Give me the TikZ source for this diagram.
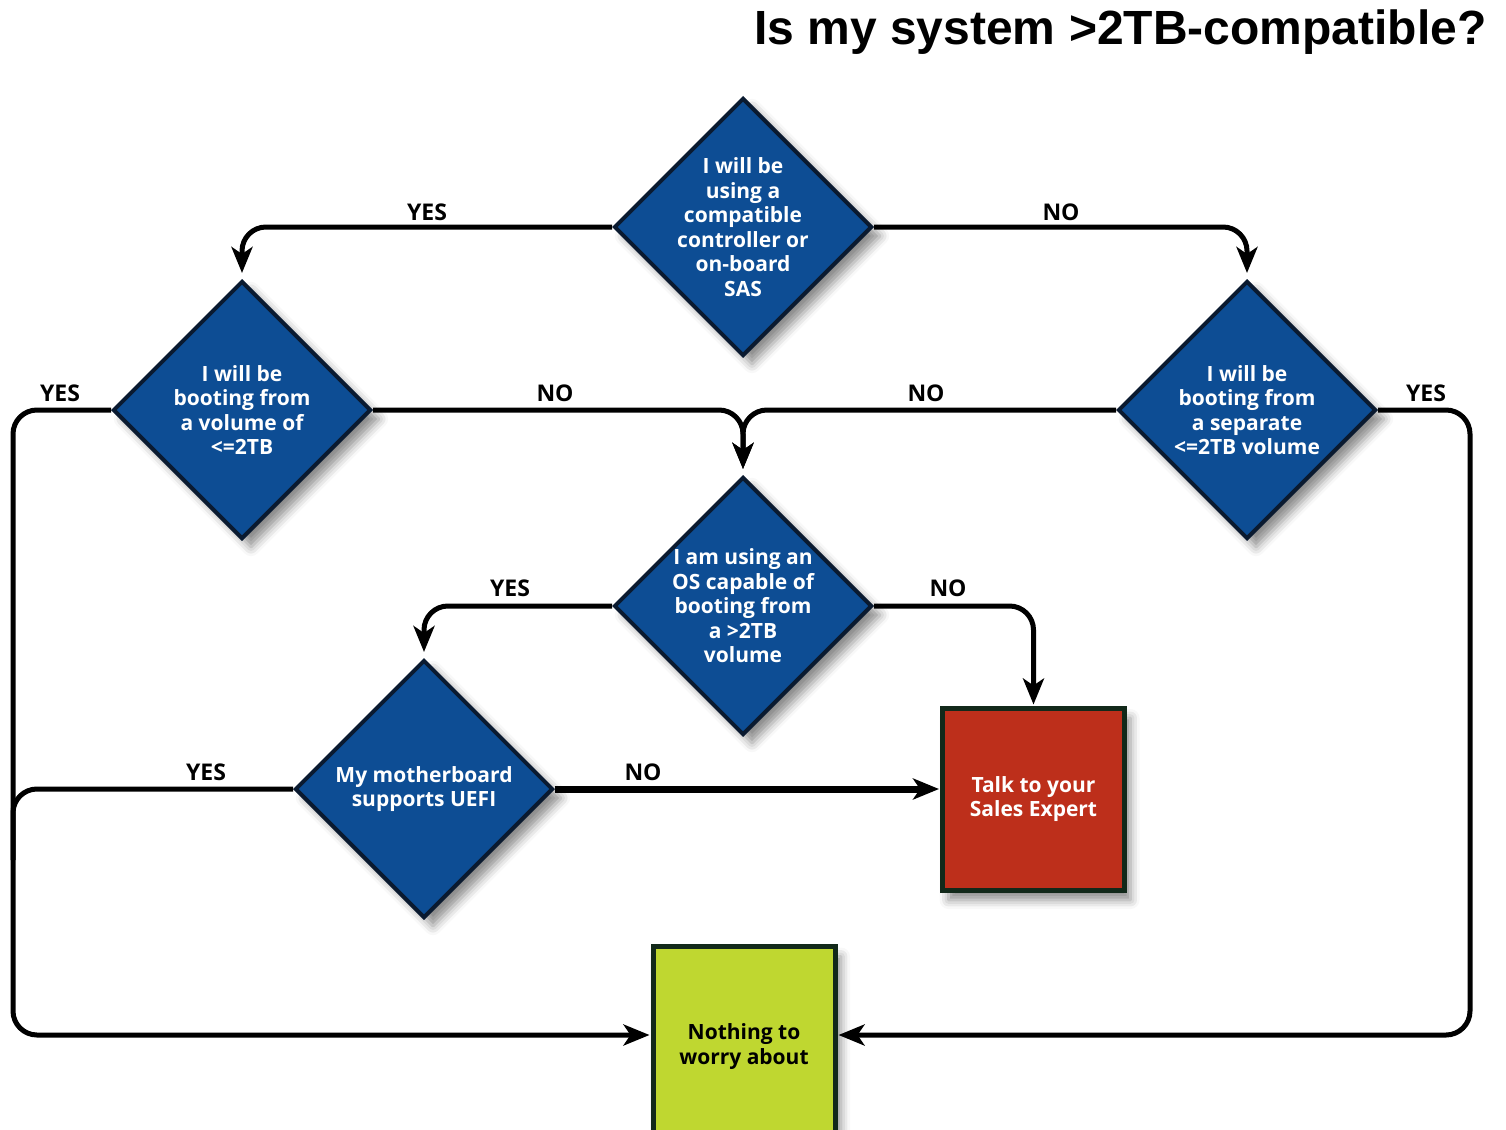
\documentclass[tikz,border=0pt]{standalone}
\usepackage{fontspec}
\setmainfont{Open Sans}
\newfontfamily\titlefont{Liberation Sans}
\usetikzlibrary{shapes.geometric,arrows.meta,shadows.blur}
\definecolor{qblue}{HTML}{0D4D94}
\definecolor{qedge}{HTML}{0A1A30}
\definecolor{stopred}{HTML}{BD2F1B}
\definecolor{okgreen}{HTML}{BFD730}
\definecolor{boxedge}{HTML}{12291A}
\begin{document}
\begin{tikzpicture}[x=1pt,y=-1pt,
	every node/.style={font=\bfseries},
	question/.style={shape=diamond, draw=qedge, line width=4pt, fill=qblue,
		minimum width=258pt, minimum height=258pt, inner sep=0pt,
		blur shadow={shadow xshift=9pt, shadow yshift=-9pt, shadow blur radius=9pt, shadow opacity=45}},
	qtext/.style={text=white, align=center, font=\bfseries\fontsize{21}{24.5}\selectfont},
	answer/.style={shape=rectangle, draw=boxedge, line width=5pt, minimum width=182pt,
		minimum height=182pt, align=center, font=\bfseries\fontsize{21}{24.5}\selectfont,
		blur shadow={shadow xshift=6pt, shadow yshift=-10pt, shadow blur radius=9pt, shadow opacity=45}},
	flow/.style={line width=5pt, rounded corners=24pt, shorten >=6pt,
		-{Stealth[length=26pt, width=21pt, inset=7pt]}},
	tobox/.style={flow, shorten >=1pt},
	choice/.style={font=\bfseries\fontsize{23}{23}\selectfont}]

	\useasboundingbox (0,0) rectangle (1506,1129);
	\clip (0,0) rectangle (1506,1129);

	\node[anchor=base east, font=\titlefont\bfseries\fontsize{48}{48}\selectfont] (title) at (1490,45)
		{Is my system >2TB-compatible?};

	\node[question, label={[qtext]center:I will be\\using a\\compatible\\controller or\\on-board\\SAS}] (q1) at (743,227) {};
	\node[question, label={[qtext]center:I will be\\booting from\\a volume of\\<=2TB}] (q2) at (242,410) {};
	\node[question, label={[qtext]center:I will be\\booting from\\a separate\\<=2TB volume}] (q3) at (1247,410) {};
	\node[question, label={[qtext]center:I am using an\\OS capable of\\booting from\\a >2TB\\volume}] (q4) at (743,606) {};
	\node[question, label={[qtext]center:My motherboard\\supports UEFI}] (q5) at (424,789) {};

	\node[answer, fill=stopred, text=white] (talk) at (1033.5,799) {Talk to your\\Sales Expert};
	\node[answer, fill=okgreen, text=black, minimum height=200pt] (ok) at (744,1046.5) {Nothing to\\worry about};

	\coordinate (lrail) at (13,1035);
	\coordinate (rrail) at (1470,1035);
	\coordinate (lmerge) at (13,860);

	\draw[flow] (q1.west) -| (q2.north);
	\draw[flow] (q1.east) -| (q3.north);
	\draw[tobox] (q2.west) -| (lrail) -- (lrail -| ok.west);
	\draw[tobox] (q3.east) -| (rrail) -- (rrail -| ok.east);
	\draw[flow] (q2.east) -| (q4.north);
	\draw[flow] (q3.west) -| (q4.north);
	\draw[flow] (q4.west) -| (q5.north);
	\draw[tobox] (q4.east) -| (talk.north);
	\draw[tobox, line width=7pt] (q5.east) -- (q5.east -| talk.west);
	\draw[line width=5pt, rounded corners=24pt] (q5.west) -| (lmerge);

	\node[choice] (yes1) at (427,212) {YES};
	\node[choice] (no1) at (1061,212) {NO};
	\node[choice] (yes2) at (60,393) {YES};
	\node[choice] (no2) at (555,393) {NO};
	\node[choice] (no3) at (926,393) {NO};
	\node[choice] (yes3) at (1426,393) {YES};
	\node[choice] (yes4) at (510,588) {YES};
	\node[choice] (no4) at (948,588) {NO};
	\node[choice] (yes5) at (206,772) {YES};
	\node[choice] (no5) at (643,772) {NO};
\end{tikzpicture}
\end{document}
